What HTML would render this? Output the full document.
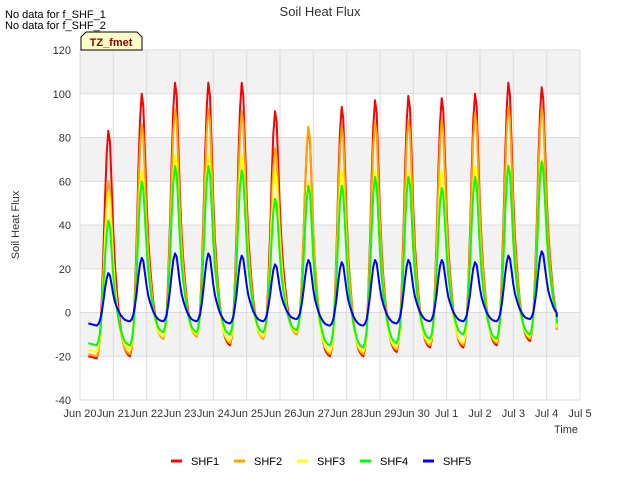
<!DOCTYPE html>
<html><head><meta charset="utf-8"><style>
body{margin:0;background:#fff;font-family:"Liberation Sans",sans-serif}
svg text{font-family:"Liberation Sans",sans-serif}
</style></head><body>
<svg id="c" width="640" height="480" xmlns="http://www.w3.org/2000/svg">
<rect width="640" height="480" fill="#fff"/>
<g id="bg"></g><g id="axes"></g><g id="series"></g>
<text x="320" y="16" text-anchor="middle" font-size="13" fill="#333">Soil Heat Flux</text>
<text x="5" y="18" font-size="11" fill="#000">No data for f_SHF_1</text>
<text x="5" y="29" font-size="11" fill="#000">No data for f_SHF_2</text>
<text x="19" y="225" font-size="11" fill="#333" text-anchor="middle" transform="rotate(-90 19 225)">Soil Heat Flux</text>
<text x="578" y="433" font-size="11" fill="#333" text-anchor="end">Time</text>
<g><path d="M81,50 L81,37 L86,32 L137,32 L142,37 L142,50 Z" fill="#ffffc8" stroke="#000" stroke-width="1"/>
<text x="111" y="46" text-anchor="middle" font-size="11" font-weight="bold" fill="#8b0000">TZ_fmet</text></g>
<g id="legend"></g>
</svg>
<script>
const categories=["SHF1","SHF2","SHF3","SHF4","SHF5"];
const colors=["#ff0000","#ffa500","#ffff00","#00ff00","#0000ff"];
const shf1Peaks=[83,100,105,105,105,92,84,94,97,99,98,100,105,103];
const shf1Troughs=[-21,-20,-12,-11,-15,-12,-10,-20,-20,-18,-16,-16,-15,-13,-8];
const shf2Peaks=[60,86,93,93,92,75,85,85,87,88,88,91,94,94];
const shf2Troughs=[-20,-19,-12,-11,-14,-12,-10,-19,-19,-17,-15,-15,-14,-12,-8];
const shf3Peaks=[55,65,72,72,72,65,60,65,65,65,65,67,68,70];
const shf3Troughs=[-18,-17,-11,-10,-13,-11,-9,-18,-18,-16,-14,-14,-13,-11,-7];
const shf4Peaks=[42,60,67,67,65,52,58,58,62,62,57,62,67,69];
const shf4Troughs=[-15,-15,-9,-9,-10,-9,-8,-15,-16,-14,-12,-10,-12,-10,-5];
const shf5Peaks=[18,25,27,27,26,22,24,23,24,24,24,23,26,28];
const shf5Troughs=[-6,-4,-4,-4,-5,-4,-3,-6,-6,-5,-4,-4,-4,-3,-2];
const yTicks=[-40,-20,0,20,40,60,80,100,120];
const xTickLabels=["Jun 20","Jun 21","Jun 22","Jun 23","Jun 24","Jun 25","Jun 26","Jun 27","Jun 28","Jun 29","Jun 30","Jul 1","Jul 2","Jul 3","Jul 4","Jul 5"];
const shape=[0,.03,.1,.25,.45,.7,.9,1,.95,.75,.55,.4,.3,.22,.15,.1,.06,.03,.015,.005,0];
const L=80,R=580,T=50,B=400;
const X=d=>L+d*(R-L)/15, Y=v=>B-(v+40)*(B-T)/160;
const NS="http://www.w3.org/2000/svg";
function mk(t,a,p){const e=document.createElementNS(NS,t);for(const k in a)e.setAttribute(k,a[k]);p.appendChild(e);return e;}
const bg=document.getElementById('bg'),ax=document.getElementById('axes');
mk('rect',{x:L,y:T,width:R-L,height:B-T,fill:'#fff'},bg);
for(let i=0;i<yTicks.length-1;i++){if(i%2===1){const r=mk('rect',{x:L,y:Y(yTicks[i+1]),width:R-L,height:Y(yTicks[i])-Y(yTicks[i+1]),fill:'#f2f2f2'},bg);

}}
yTicks.forEach(v=>{const g=mk('line',{x1:L,x2:R,y1:Y(v),y2:Y(v),stroke:'#dcdcdc','stroke-width':1},bg);


const t=mk('text',{x:L-9,y:Y(v)+4,'text-anchor':'end','font-size':11,fill:'#333'},ax);t.textContent=v;

});
xTickLabels.forEach((s,i)=>{const g=mk('line',{x1:X(i),x2:X(i),y1:T,y2:B,stroke:'#dcdcdc','stroke-width':1},bg);


const t=mk('text',{x:X(i),y:B+17,'text-anchor':'middle','font-size':11,fill:'#333'},ax);t.textContent=s;

});
const peaks=[shf1Peaks,shf2Peaks,shf3Peaks,shf4Peaks,shf5Peaks];
const troughs=[shf1Troughs,shf2Troughs,shf3Troughs,shf4Troughs,shf5Troughs];
const sg=document.getElementById('series');
categories.forEach((name,s)=>{
  const P=peaks[s],Tr=troughs[s];const pts=[];
  pts.push([0.25,Tr[0]+1]);
  for(let k=0;k<P.length;k++){
    for(let j=0;j<shape.length-1;j++){
      const t=k+0.5+j*0.05; if(t>14.3)break;
      const base=j<7?Tr[k]:Tr[k+1]+(Tr[k]-Tr[k+1])*0;
      pts.push([t,base+(P[k]-base)*shape[j]]);
    }
  }
  pts.push([14.3,Tr[14]]);
  const d=pts.map((p,i)=>(i?'L':'M')+X(p[0]).toFixed(1)+','+Y(p[1]).toFixed(1)).join('');
  const pa=mk('path',{d:d,fill:'none',stroke:colors[s],'stroke-width':2,'stroke-linejoin':'round'},sg);
  
  
});
const lg=document.getElementById('legend');
categories.forEach((name,i)=>{const g=mk('g',{},lg);


const x=171+i*63;mk('line',{x1:x,x2:x+11,y1:461,y2:461,stroke:colors[i],'stroke-width':3},g);
const t=mk('text',{x:x+20,y:465,'font-size':11,fill:'#000'},g);t.textContent=name;});
</script>
</body></html>
